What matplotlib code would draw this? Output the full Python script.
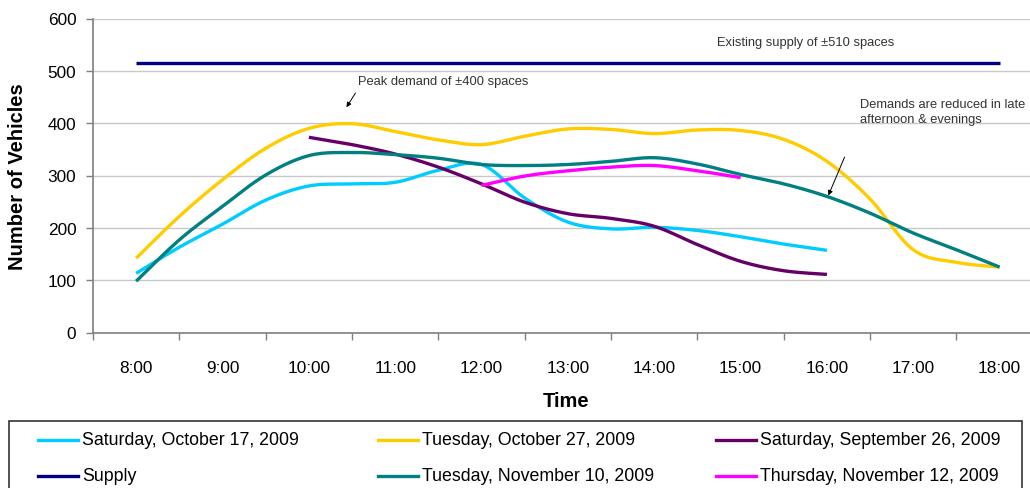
import numpy as np
import matplotlib
matplotlib.use("Agg")
import matplotlib.pyplot as plt
from matplotlib.lines import Line2D
from matplotlib.patches import Rectangle

plt.rcParams['font.family'] = ['Liberation Sans', 'DejaVu Sans']

# ---------------- data ----------------
tick_labels = ["8:00", "9:00", "10:00", "11:00", "12:00", "13:00",
               "14:00", "15:00", "16:00", "17:00", "18:00"]
hours = [8, 9, 10, 11, 12, 13, 14, 15, 16, 17, 18]

# half-hour survey times
t_sat_oct17 = [8, 8.5, 9, 9.5, 10, 10.5, 11, 11.5, 12, 12.5, 13, 13.5, 14, 14.5, 15, 15.5, 16]
v_sat_oct17 = [113, 163, 207, 253, 280, 284, 287, 310, 321, 257, 211, 198, 201, 195, 183, 169, 157]

t_tue_oct27 = [8, 8.5, 9, 9.5, 10, 10.5, 11, 11.5, 12, 12.5, 13, 13.5, 14, 14.5, 15, 15.5, 16, 16.5, 17, 17.5, 18]
v_tue_oct27 = [142, 222, 292, 352, 390, 399, 384, 368, 359, 375, 389, 388, 380, 387, 386, 369, 327, 255, 158, 134, 125]

t_sat_sep26 = [10, 10.5, 11, 11.5, 12, 12.5, 13, 13.5, 14, 14.5, 15, 15.5, 16]
v_sat_sep26 = [373, 359, 341, 316, 284, 249, 227, 218, 203, 168, 136, 118, 111]

t_supply = [8, 18]
v_supply = [515, 515]

t_tue_nov10 = [8, 8.5, 9, 9.5, 10, 10.5, 11, 11.5, 12, 12.5, 13, 13.5, 14, 14.5, 15, 15.5, 16, 16.5, 17, 17.5, 18]
v_tue_nov10 = [98, 177, 241, 301, 338, 344, 340, 333, 321, 319, 321, 327, 334, 322, 302, 284, 260, 228, 190, 158, 125]

t_thu_nov12 = [12, 12.5, 13, 13.5, 14, 14.5, 15]
v_thu_nov12 = [281, 299, 309, 316, 319, 309, 296]

series_labels = ["Saturday, October 17, 2009", "Tuesday, October 27, 2009",
                 "Saturday, September 26, 2009", "Supply",
                 "Tuesday, November 10, 2009", "Thursday, November 12, 2009"]
series_colors = ["#00CCFF", "#FFCC00", "#660066", "#000080", "#008080", "#FF00FF"]
series_t = [t_sat_oct17, t_tue_oct27, t_sat_sep26, t_supply, t_tue_nov10, t_thu_nov12]
series_v = [v_sat_oct17, v_tue_oct27, v_sat_sep26, v_supply, v_tue_nov10, v_thu_nov12]


def smooth(xs, ys, n=24):
    """Excel-like smoothing (Catmull-Rom as cubic Bezier)."""
    xs = np.asarray(xs, float)
    ys = np.asarray(ys, float)
    if len(xs) < 3:
        return xs, ys
    P = np.column_stack([xs, ys])
    out = []
    m = len(P)
    s = np.linspace(0, 1, n)[:, None]
    for i in range(m - 1):
        p0 = P[i - 1] if i > 0 else P[i]
        p1 = P[i]
        p2 = P[i + 1]
        p3 = P[i + 2] if i + 2 < m else P[i + 1]
        c1 = p1 + (p2 - p0) / 6.0
        c2 = p2 - (p3 - p1) / 6.0
        seg = ((1 - s) ** 3) * p1 + 3 * ((1 - s) ** 2) * s * c1 + 3 * (1 - s) * s ** 2 * c2 + s ** 3 * p2
        out.append(seg if i == 0 else seg[1:])
    out = np.vstack(out)
    return out[:, 0], out[:, 1]


# ---------------- figure ----------------
W, H = 1030, 489
fig = plt.figure(figsize=(W / 100, H / 100), dpi=100)

ax_l, ax_r, ax_t, ax_b = 93, 1042.8, 19.5, 333.5
ax = fig.add_axes([ax_l / W, 1 - ax_b / H, (ax_r - ax_l) / W, (ax_b - ax_t) / H])

ax.set_xlim(7.5, 18.5)
ax.set_ylim(0, 600)

ax.set_yticks(range(0, 601, 100))
ax.yaxis.grid(True, color="#C8C8C8", linewidth=1.0)
ax.set_axisbelow(True)

ax.set_xticks(np.arange(7.5, 18.6, 1.0))
ax.set_xticklabels([])
ax.set_xticks(hours, minor=True)
ax.set_xticklabels(tick_labels, minor=True)
ax.tick_params(axis="x", which="major", length=5, width=1, color="#7F7F7F", direction="out")
ax.tick_params(axis="x", which="minor", length=0, pad=20, labelsize=12.4)
ax.tick_params(axis="y", length=5, width=1, color="#7F7F7F", direction="out", pad=7, labelsize=12.4)

for sp in ["top", "right"]:
    ax.spines[sp].set_visible(False)
for sp in ["left", "bottom"]:
    ax.spines[sp].set_color("#7F7F7F")
    ax.spines[sp].set_linewidth(1.2)

for t, v, c in zip(series_t, series_v, series_colors):
    sx, sy = smooth(t, v)
    ax.plot(sx, sy, color=c, linewidth=2.4, solid_capstyle="butt", zorder=3)

ax.set_xlabel("Time", fontsize=14.5, fontweight="bold")
ax.xaxis.set_label_coords((566 - ax_l) / (ax_r - ax_l), -(402 - ax_b) / (ax_b - ax_t))
ax.xaxis.label.set_va("center")
ax.set_ylabel("Number of Vehicles", fontsize=14.5, fontweight="bold")
ax.yaxis.set_label_coords((18 - ax_l) / (ax_r - ax_l), 0.5)
ax.yaxis.label.set_va("center")

# annotations
txt_col = "#333333"
ax.text(14.726, 555, "Existing supply of \u00b1510 spaces", fontsize=9.3, color=txt_col,
        ha="left", va="center")
ax.text(10.569, 481, "Peak demand of \u00b1400 spaces", fontsize=9.3, color=txt_col,
        ha="left", va="center")
ax.text(16.382, 422.5, "Demands are reduced in late\nafternoon & evenings", fontsize=9.3,
        color=txt_col, ha="left", va="center", linespacing=1.25)
ax.annotate("", xy=(10.418, 426), xytext=(10.557, 462),
            arrowprops=dict(arrowstyle="-|>", color="black", lw=0.7, mutation_scale=7))
ax.annotate("", xy=(16.004, 257), xytext=(16.217, 340),
            arrowprops=dict(arrowstyle="-|>", color="black", lw=0.7, mutation_scale=7))

# legend (box and entries placed in figure pixels)
fig.add_artist(Rectangle((9 / W, 1 - 500 / H), (1022 - 9) / W, (500 - 422) / H,
                         transform=fig.transFigure, fill=False, edgecolor="#333333",
                         linewidth=1.2, clip_on=False))
col_x = [38, 378, 716, 38, 378, 716]
row_y = [441, 441, 441, 476.7, 476.7, 476.7]
for lab, c, cx, ry in zip(series_labels, series_colors, col_x, row_y):
    fig.add_artist(Line2D([cx / W, (cx + 40) / W], [1 - ry / H, 1 - ry / H],
                          transform=fig.transFigure, color=c, linewidth=2.4))
    fig.text((cx + 44) / W, 1 - ry / H, lab, fontsize=12.8, ha="left", va="center")

fig.savefig("out.png", dpi=100)
